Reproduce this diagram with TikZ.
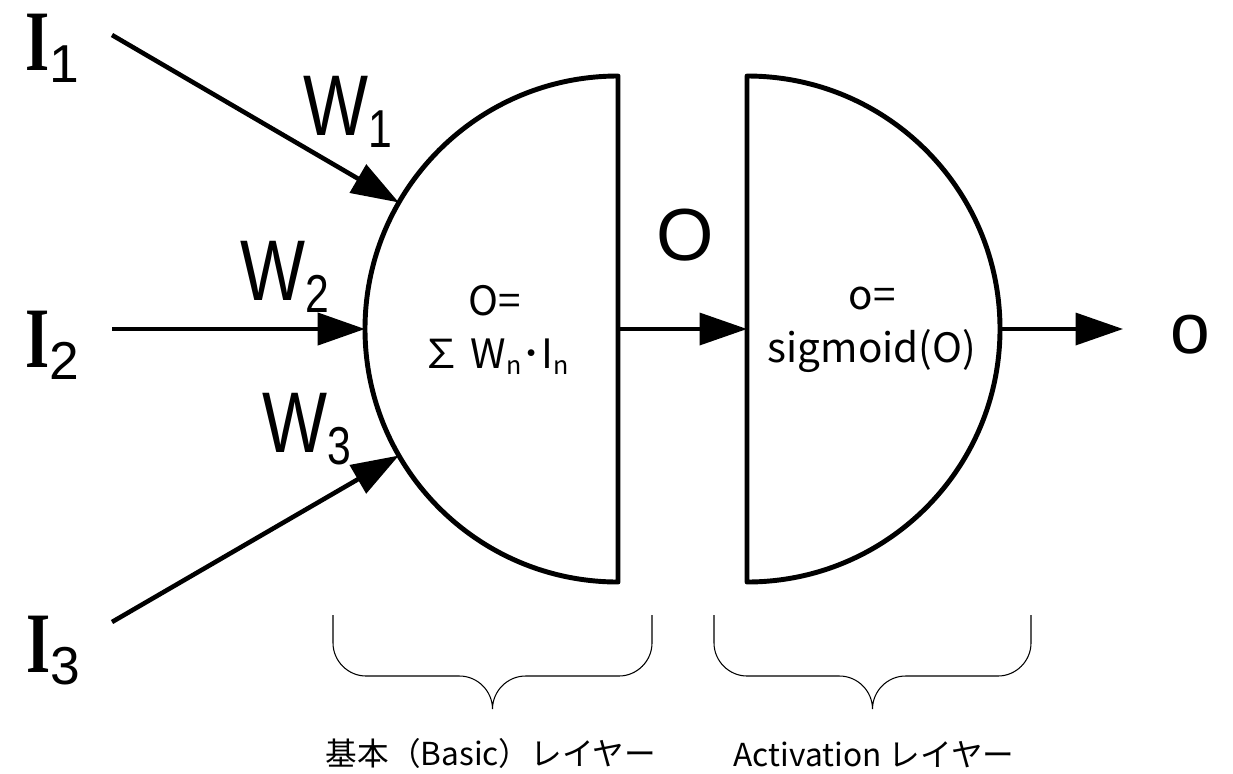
\documentclass[tikz,border=0pt]{standalone}
\usepackage{fontspec}
\setmainfont{Liberation Sans}
\newfontfamily\jpfont{Noto Sans CJK JP}
\newfontfamily\serifI{Liberation Serif}
\usetikzlibrary{arrows.meta}

\newcommand\bigI{{\serifI\bfseries\scalebox{0.72}[1]{I}}}
\newcommand\lowsub[1]{\raisebox{-0.14em}{\scalebox{0.62}{#1}}}

\begin{document}
\begin{tikzpicture}[
    >={Triangle[length=0.95cm,width=0.64cm]},
    halfpen/.style={line width=2.8pt, line join=round},
    feed/.style={->, line width=2.6pt},
    bracepen/.style={line width=0.6pt},
    inlabel/.style={anchor=base west, inner sep=0pt,
        font=\fontsize{49}{49}\selectfont},
    inside/.style={align=center, inner sep=0pt,
        font=\jpfont\fontsize{23}{30}\selectfont},
    layername/.style={anchor=base, inner sep=0pt,
        font=\jpfont\fontsize{18}{18}\selectfont},
    pics/layerbrace/.style={code={
        \draw[bracepen] (0,0) -- (0,-0.56)
            .. controls (0,-0.92) and (0.30,-1.22) .. (0.66,-1.22)
            -- ({#1/2-0.66},-1.22)
            .. controls ({#1/2-0.30},-1.22) and ({#1/2},-1.52) .. ({#1/2},-1.88)
            .. controls ({#1/2},-1.52) and ({#1/2+0.30},-1.22) .. ({#1/2+0.66},-1.22)
            -- ({#1-0.66},-1.22)
            .. controls ({#1-0.30},-1.22) and (#1,-0.92) .. (#1,-0.56)
            -- (#1,0);
    }},
]
\useasboundingbox (0,0) rectangle (24.66,-15.46);

% ---------------------------------------------------
% the two half circles
% ---------------------------------------------------
\coordinate (bc) at (12.36,-6.58);
\coordinate (ac) at (14.94,-6.58);

\draw[halfpen] ([yshift=5.06cm]bc)
    arc[start angle=90, end angle=270, radius=5.06] -- cycle;
\draw[halfpen] ([yshift=5.06cm]ac)
    arc[start angle=90, end angle=-90, radius=5.06] -- cycle;

\node[inside] (basicf) at (9.90,-6.60)
    {O=\\∑ W\lowsub{n}･I\lowsub{n}};
\node[inside] (actf) at (17.44,-6.60) {o=\\sigmoid(O)};

% ---------------------------------------------------
% inputs and weights
% ---------------------------------------------------
\node[inlabel] (I1) at (0.50,-1.40) {\bigI\lowsub{1}};
\node[inlabel] (I2) at (0.50,-7.34) {\bigI\lowsub{2}};
\node[inlabel] (I3) at (0.52,-13.44) {\bigI\lowsub{3}};

\coordinate (s1) at (2.24,-0.70);
\coordinate (s2) at (2.24,-6.58);
\coordinate (s3) at (2.24,-12.44);

\draw[feed] (s1) -- ([shift={(150:5.06)}]bc);
\draw[feed] (s2) -- ([shift={(180:5.06)}]bc);
\draw[feed] (s3) -- ([shift={(210:5.06)}]bc);

\node[inlabel] (W1) at (6.06,-2.70) {\scalebox{0.8}[1]{W\lowsub{1}}};
\node[inlabel] (W2) at (4.80,-6.00) {\scalebox{0.8}[1]{W\lowsub{2}}};
\node[inlabel] (W3) at (5.24,-9.04) {\scalebox{0.8}[1]{W\lowsub{3}}};

% ---------------------------------------------------
% between the layers, and the output
% ---------------------------------------------------
\draw[feed, line width=2.1pt] (bc) -- (ac);
\node[anchor=base, inner sep=0pt, font=\fontsize{42}{42}\selectfont]
    (sumout) at (13.70,-5.20) {O};

\coordinate (outp) at (22.46,-6.58);
\draw[feed, line width=2.1pt] ([xshift=5.06cm]ac) -- (outp);
\node[anchor=base, inner sep=0pt, font=\fontsize{40.6}{40.6}\selectfont]
    (out) at (23.80,-7.06) {o};

% ---------------------------------------------------
% braces and layer names
% ---------------------------------------------------
\pic (basicbrace) at (6.66,-12.30) {layerbrace=6.38};
\pic (actbrace) at (14.28,-12.30) {layerbrace=6.34};

\node[layername] (basicname) at (9.82,-15.30) {基本（Basic）レイヤー};
\node[layername] (actname) at (17.48,-15.32) {Activation レイヤー};

\end{tikzpicture}
\end{document}
